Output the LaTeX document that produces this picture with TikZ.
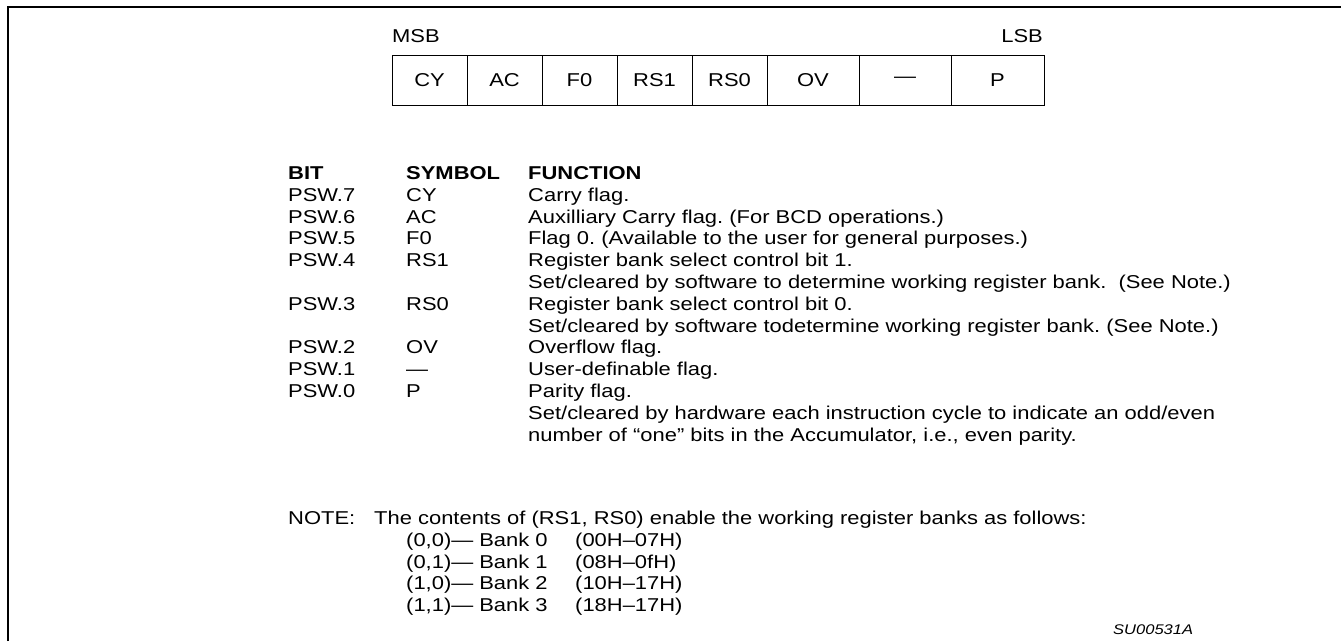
\documentclass[tikz,border=0pt]{standalone}
\usepackage{fontspec}
\setmainfont{Liberation Sans}[FakeStretch=1.18]
\begin{document}
\frenchspacing
\begin{tikzpicture}[x=1pt,y=-1pt,
  txt/.style={anchor=base west,inner sep=0pt,font=\fontsize{18.6}{21.8}\selectfont},
  hdr/.style={txt,font=\fontsize{18.6}{21.8}\selectfont\bfseries},
  cell/.style={draw,line width=1pt,minimum height=50pt,inner sep=0pt,font=\fontsize{18.6}{21.8}\selectfont},
  frame/.style={line width=2.5pt}]
\useasboundingbox (0,0) rectangle (1341,641);
% frame
\coordinate (fbl) at (8,641);
\coordinate (ftl) at (8,7);
\coordinate (ftr) at (1341,7);
\draw[frame] (fbl) -- (ftl) -- (ftr);
% register
\node[txt] (msb) at (392,42) {MSB};
\node[txt,anchor=base east] (lsb) at (1043,42) {LSB};
\node[cell,minimum width=75pt] (c7) at (429.5,80) {CY};
\node[cell,minimum width=75pt] (c6) at (504.5,80) {AC};
\node[cell,minimum width=75pt] (c5) at (579.5,80) {F0};
\node[cell,minimum width=75pt] (c4) at (654.5,80) {RS1};
\node[cell,minimum width=75pt] (c3) at (729.5,80) {RS0};
\node[cell,minimum width=92pt] (c2) at (813,80) {OV};
\node[cell,minimum width=92pt] (c1) at (905,80) {---};
\node[cell,minimum width=93pt] (c0) at (997.5,80) {P};
% table header
\node[hdr] (hbit) at (288,179.5) {BIT};
\node[hdr] (hsym) at (406,179.5) {SYMBOL};
\node[hdr] (hfun) at (528,179.5) {FUNCTION};
% rows
\node[txt] (b7) at (288,201.3) {PSW.7};
\node[txt] (s7) at (406,201.3) {CY};
\node[txt] (f7) at (528,201.3) {Carry flag.};
\node[txt] (b6) at (288,223.1) {PSW.6};
\node[txt] (s6) at (406,223.1) {AC};
\node[txt] (f6) at (528,223.1) {Auxilliary Carry flag. (For BCD operations.)};
\node[txt] (b5) at (288,244.9) {PSW.5};
\node[txt] (s5) at (406,244.9) {F0};
\node[txt] (f5) at (528,244.9) {Flag 0. (Available to the user for general purposes.)};
\node[txt] (b4) at (288,266.7) {PSW.4};
\node[txt] (s4) at (406,266.7) {RS1};
\node[txt] (f4) at (528,266.7) {Register bank select control bit 1.};
\node[txt] (f4b) at (528,288.5) {Set/cleared by software to determine working register bank.\ \ (See Note.)};
\node[txt] (b3) at (288,310.3) {PSW.3};
\node[txt] (s3) at (406,310.3) {RS0};
\node[txt] (f3) at (528,310.3) {Register bank select control bit 0.};
\node[txt] (f3b) at (528,332.1) {Set/cleared by software todetermine working register bank. (See Note.)};
\node[txt] (b2) at (288,353.9) {PSW.2};
\node[txt] (s2) at (406,353.9) {OV};
\node[txt] (f2) at (528,353.9) {Overflow flag.};
\node[txt] (b1) at (288,375.7) {PSW.1};
\node[txt] (s1) at (406,375.7) {---};
\node[txt] (f1) at (528,375.7) {User-definable flag.};
\node[txt] (b0) at (288,397.5) {PSW.0};
\node[txt] (s0) at (406,397.5) {P};
\node[txt] (f0) at (528,397.5) {Parity flag.};
\node[txt] (f0b) at (528,419.3) {Set/cleared by hardware each instruction cycle to indicate an odd/even};
\node[txt] (f0c) at (528,441.1) {number of “one” bits in the Accumulator, i.e., even parity.};
% note
\node[txt] (note) at (288,524.5) {NOTE:};
\node[txt] (notet) at (374,524.5) {The contents of (RS1, RS0) enable the working register banks as follows:};
\node[txt] (k0) at (406,546.5) {(0,0)--- Bank 0};
\node[txt] (r0) at (575,546.5) {(00H--07H)};
\node[txt] (k1) at (406,568) {(0,1)--- Bank 1};
\node[txt] (r1) at (575,568) {(08H--0fH)};
\node[txt] (k2) at (406,589.5) {(1,0)--- Bank 2};
\node[txt] (r2) at (575,589.5) {(10H--17H)};
\node[txt] (k3) at (406,611.5) {(1,1)--- Bank 3};
\node[txt] (r3) at (575,611.5) {(18H--17H)};
\node[txt,font=\fontsize{14}{17}\selectfont\itshape] (id) at (1113,634) {SU00531A};
\end{tikzpicture}
\end{document}
